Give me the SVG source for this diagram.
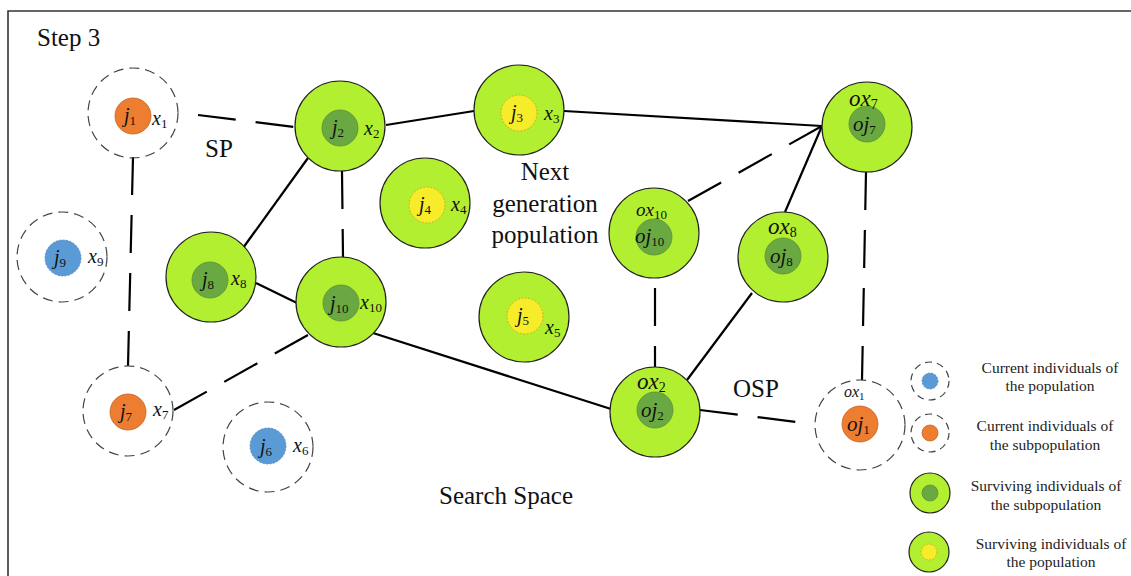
<svg xmlns="http://www.w3.org/2000/svg" width="1131" height="576" viewBox="0 0 1131 576">
  <style>
    .frame { fill: none; stroke: #333; stroke-width: 1.6; }
    .ring { fill: none; stroke: #444; stroke-width: 1.2; stroke-dasharray: 10 6; }
    .outer { fill: #b2ef30; stroke: #222; stroke-width: 1.2; }
    .surv { fill: #6aa842; stroke: #5a8f38; stroke-width: 0.8; }
    .pop { fill: #f7ec2a; stroke: #b8a820; stroke-width: 0.8; stroke-dasharray: 2 1.5; }
    .cur { fill: #5b9bd5; stroke: #4a86bd; stroke-width: 0.8; stroke-dasharray: 2 1.5; }
    .sub-c { fill: #ed7d31; stroke: #c8651f; stroke-width: 0.8; }
    .edge { stroke: #000; stroke-width: 2.2; fill: none; }
    .dash { stroke-dasharray: 38 20; }
    .m { font-family: "Liberation Serif", "DejaVu Serif", serif; font-style: italic; font-size: 20px; fill: #111; }
    .s { font-style: normal; font-size: 13px; }
    .t { font-family: "Liberation Serif", "Times New Roman", serif; font-size: 25px; fill: #111; }
    .lg { font-family: "Liberation Serif", "Times New Roman", serif; font-size: 15.5px; fill: #222; }
  </style>

  <!-- frame -->
  <path class="frame" d="M8 600 V11 H1140"/>

  <!-- connectors -->
  <g id="connectors">
    <line class="edge dash" x1="198" y1="115" x2="295" y2="127"/>
    <line class="edge dash" x1="133" y1="157" x2="128" y2="366"/>
    <line class="edge dash" x1="342" y1="171" x2="343" y2="257"/>
    <line class="edge" x1="308" y1="158" x2="243" y2="248"/>
    <line class="edge" x1="256" y1="283" x2="297" y2="303"/>
    <line class="edge" x1="386" y1="125" x2="474" y2="111"/>
    <line class="edge" x1="564" y1="111" x2="822" y2="126"/>
    <line class="edge" x1="373" y1="333" x2="611" y2="409"/>
    <line class="edge dash" x1="308" y1="335" x2="174" y2="410"/>
    <line class="edge dash" x1="688" y1="201" x2="822" y2="126"/>
    <line class="edge" x1="785" y1="212" x2="822" y2="126"/>
    <line class="edge dash" x1="655" y1="288" x2="655" y2="367"/>
    <line class="edge" x1="752" y1="293" x2="687" y2="380"/>
    <line class="edge dash" x1="866" y1="172" x2="862" y2="380"/>
    <line class="edge dash" x1="700" y1="410" x2="797" y2="422"/>
  </g>

  <!-- current individuals of the subpopulation / population -->
  <g id="j1">
    <circle class="ring" cx="133" cy="113" r="45"/>
    <circle class="sub-c" cx="133" cy="116" r="18"/>
    <text class="m" x="124" y="122">j<tspan class="s" dy="3">1</tspan></text>
    <text class="m" x="152" y="125">x<tspan class="s" dy="3">1</tspan></text>
  </g>
  <g id="j9">
    <circle class="ring" cx="62" cy="257" r="45"/>
    <circle class="cur" cx="63" cy="258" r="18"/>
    <text class="m" x="54" y="264">j<tspan class="s" dy="3">9</tspan></text>
    <text class="m" x="88" y="263">x<tspan class="s" dy="3">9</tspan></text>
  </g>
  <g id="j7">
    <circle class="ring" cx="128" cy="411" r="45"/>
    <circle class="sub-c" cx="128" cy="412" r="18"/>
    <text class="m" x="120" y="418">j<tspan class="s" dy="3">7</tspan></text>
    <text class="m" x="153" y="416">x<tspan class="s" dy="3">7</tspan></text>
  </g>
  <g id="j6">
    <circle class="ring" cx="268" cy="447" r="45"/>
    <circle class="cur" cx="268" cy="446" r="18"/>
    <text class="m" x="260" y="453">j<tspan class="s" dy="3">6</tspan></text>
    <text class="m" x="293" y="452">x<tspan class="s" dy="3">6</tspan></text>
  </g>

  <!-- surviving individuals of the subpopulation -->
  <g id="j2">
    <circle class="outer" cx="340" cy="126" r="45"/>
    <circle class="surv" cx="340" cy="128" r="18"/>
    <text class="m" x="332" y="134">j<tspan class="s" dy="3">2</tspan></text>
    <text class="m" x="364" y="135">x<tspan class="s" dy="3">2</tspan></text>
  </g>
  <g id="j8">
    <circle class="outer" cx="211" cy="277" r="45"/>
    <circle class="surv" cx="210" cy="280" r="18"/>
    <text class="m" x="202" y="286">j<tspan class="s" dy="3">8</tspan></text>
    <text class="m" x="231" y="285">x<tspan class="s" dy="3">8</tspan></text>
  </g>
  <g id="j10">
    <circle class="outer" cx="341" cy="302" r="45"/>
    <circle class="surv" cx="341" cy="303" r="18"/>
    <text class="m" x="330" y="310">j<tspan class="s" dy="3">10</tspan></text>
    <text class="m" x="360" y="309">x<tspan class="s" dy="3">10</tspan></text>
  </g>

  <!-- surviving individuals of the population -->
  <g id="j3">
    <circle class="outer" cx="519" cy="110" r="45"/>
    <circle class="pop" cx="519" cy="113" r="18"/>
    <text class="m" x="511" y="119">j<tspan class="s" dy="3">3</tspan></text>
    <text class="m" x="544" y="120">x<tspan class="s" dy="3">3</tspan></text>
  </g>
  <g id="j4">
    <circle class="outer" cx="425" cy="203" r="45"/>
    <circle class="pop" cx="427" cy="205" r="18"/>
    <text class="m" x="419" y="211">j<tspan class="s" dy="3">4</tspan></text>
    <text class="m" x="451" y="211">x<tspan class="s" dy="3">4</tspan></text>
  </g>
  <g id="j5">
    <circle class="outer" cx="524" cy="317" r="45"/>
    <circle class="pop" cx="525" cy="316" r="18"/>
    <text class="m" x="517" y="322">j<tspan class="s" dy="3">5</tspan></text>
    <text class="m" x="545" y="334">x<tspan class="s" dy="3">5</tspan></text>
  </g>

  <!-- offspring -->
  <g id="oj10">
    <circle class="outer" cx="654" cy="233" r="45"/>
    <circle class="surv" cx="654" cy="237" r="18"/>
    <text class="m" x="636" y="216" style="font-size:19px">ox<tspan class="s" dy="3">10</tspan></text>
    <text class="m" x="635" y="243" style="font-size:21px">oj<tspan class="s" dy="3">10</tspan></text>
  </g>
  <g id="oj8">
    <circle class="outer" cx="783" cy="257" r="45"/>
    <circle class="surv" cx="783" cy="256" r="18"/>
    <text class="m" x="768" y="234" style="font-size:23px">ox<tspan class="s" dy="3" style="font-size:14px">8</tspan></text>
    <text class="m" x="770" y="263" style="font-size:21px">oj<tspan class="s" dy="3">8</tspan></text>
  </g>
  <g id="oj7">
    <circle class="outer" cx="867" cy="127" r="45"/>
    <circle class="surv" cx="867" cy="124" r="18"/>
    <text class="m" x="849" y="106" style="font-size:23px">ox<tspan class="s" dy="3" style="font-size:14px">7</tspan></text>
    <text class="m" x="853" y="131" style="font-size:21px">oj<tspan class="s" dy="3">7</tspan></text>
  </g>
  <g id="oj2">
    <circle class="outer" cx="655" cy="412" r="45"/>
    <circle class="surv" cx="655" cy="410" r="18"/>
    <text class="m" x="637" y="389" style="font-size:23px">ox<tspan class="s" dy="3" style="font-size:14px">2</tspan></text>
    <text class="m" x="641" y="417" style="font-size:21px">oj<tspan class="s" dy="3">2</tspan></text>
  </g>
  <g id="oj1">
    <circle class="ring" cx="860" cy="425" r="45"/>
    <circle class="sub-c" cx="860" cy="424" r="18"/>
    <text class="m" x="844" y="397" style="font-size:16px">ox<tspan class="s" dy="3" style="font-size:11px">1</tspan></text>
    <text class="m" x="847" y="431" style="font-size:21px">oj<tspan class="s" dy="3">1</tspan></text>
  </g>

  <!-- free labels -->
  <text class="t" x="37" y="46">Step 3</text>
  <text class="t" x="205" y="157">SP</text>
  <text class="t" x="545" y="180" text-anchor="middle">Next</text>
  <text class="t" x="545" y="212" text-anchor="middle">generation</text>
  <text class="t" x="545" y="243" text-anchor="middle">population</text>
  <text class="t" x="733" y="397">OSP</text>
  <text class="t" x="506" y="504" text-anchor="middle">Search Space</text>

  <!-- legend -->
  <g id="legend">
    <circle class="ring" cx="930" cy="381" r="19" style="stroke-dasharray:7 5"/>
    <circle class="cur" cx="930" cy="381" r="8"/>
    <text class="lg" x="1050" y="373" text-anchor="middle">Current individuals of</text>
    <text class="lg" x="1050" y="391" text-anchor="middle">the population</text>

    <circle class="ring" cx="930" cy="433" r="19" style="stroke-dasharray:7 5"/>
    <circle class="sub-c" cx="930" cy="433" r="8"/>
    <text class="lg" x="1045" y="431" text-anchor="middle">Current individuals of</text>
    <text class="lg" x="1045" y="450" text-anchor="middle">the subpopulation</text>

    <circle class="outer" cx="930" cy="493" r="20"/>
    <circle class="surv" cx="930" cy="493" r="8"/>
    <text class="lg" x="1046" y="491" text-anchor="middle">Surviving individuals of</text>
    <text class="lg" x="1046" y="510" text-anchor="middle">the subpopulation</text>

    <circle class="outer" cx="929" cy="552" r="20"/>
    <circle class="pop" cx="929" cy="552" r="8"/>
    <text class="lg" x="1051" y="549" text-anchor="middle">Surviving individuals of</text>
    <text class="lg" x="1051" y="567" text-anchor="middle">the population</text>
  </g>
</svg>
